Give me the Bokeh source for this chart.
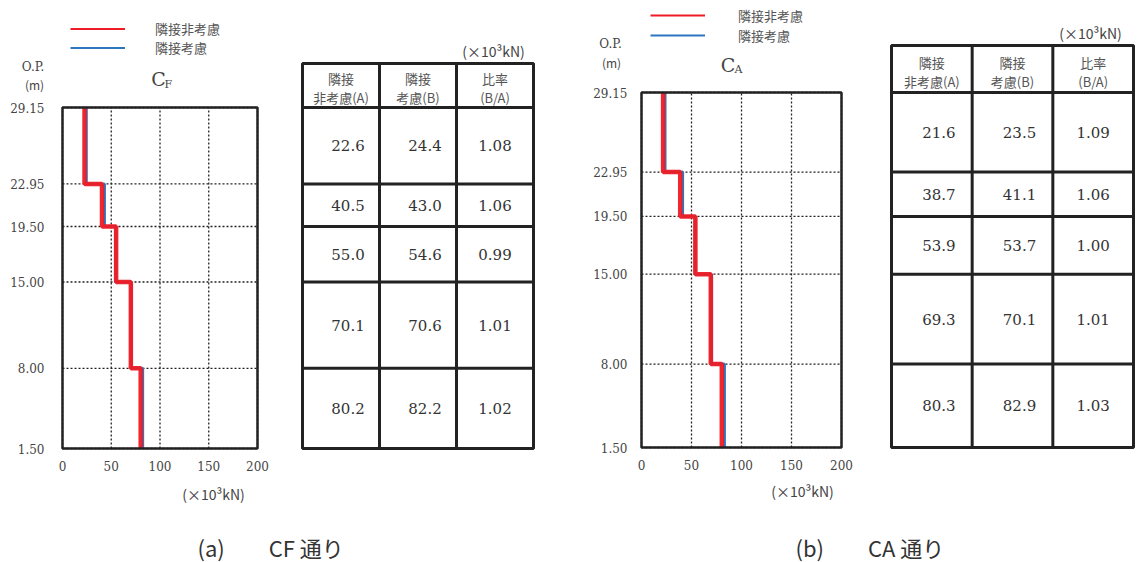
from bokeh.plotting import figure
from bokeh.models import (Range1d, Label, Legend, LegendItem, FixedTicker,
                          NumeralTickFormatter, LinearAxis)
from bokeh.embed import file_html
from bokeh.resources import INLINE
from bokeh.core.properties import value

# ---------------- data ----------------
levels = [29.15, 22.95, 19.50, 15.00, 8.00, 1.50]   # O.P. (m) floor levels
x_ticks = [0, 50, 100, 150, 200]

cf_a = [22.6, 40.5, 55.0, 70.1, 80.2]     # 隣接非考慮 (A)
cf_b = [24.4, 43.0, 54.6, 70.6, 82.2]     # 隣接考慮 (B)
cf_ratio = ["1.08", "1.06", "0.99", "1.01", "1.02"]

ca_a = [21.6, 38.7, 53.9, 69.3, 80.3]
ca_b = [23.5, 41.1, 53.7, 70.1, 82.9]
ca_ratio = ["1.09", "1.06", "1.00", "1.01", "1.03"]

legend_labels = ["隣接非考慮", "隣接考慮"]
header_line1 = ["隣接", "隣接", "比率"]
header_line2 = ["非考慮(A)", "考慮(B)", "(B/A)"]
unit_text = "(×10³kN)"
op_text = ["O.P.", "(m)"]
captions = ["(a)　　CF 通り", "(b)　　CA 通り"]

# ---------------- style ----------------
RED = "#ee1c24"
BLUE = "#2e75c0"
TXT = "#444444"
DARK = "#222222"
JP = "Noto Sans CJK JP"
SERIF = "DejaVu Serif"

# page canvas (frame covers the whole page area, pixel coordinates)
PX0, PX1 = 0, 1140
PY0, PY1 = 0, 562

p = figure(width=PX1 - PX0, height=PY1 - PY0, min_border=0,
           x_range=Range1d(PX0, PX1), y_range=Range1d(PY1, PY0),
           x_axis_location=None, y_axis_location=None,
           toolbar_location=None, output_backend="svg")
p.grid.visible = False
p.outline_line_color = None
p.background_fill_color = "white"
p.border_fill_color = "white"


def ext_range(v0, v1, q0, q1, f0, f1):
    """range whose value v0 sits at pixel q0 and v1 at pixel q1, over frame pixels f0..f1"""
    k = (v1 - v0) / (q1 - q0)
    return Range1d(v0 + (f0 - q0) * k, v0 + (f1 - q0) * k)


def steps(vals):
    xs, ys = [], []
    for i, v in enumerate(vals):
        xs += [v, v]
        ys += [levels[i], levels[i + 1]]
    return xs, ys


def panel(key, a, b, r, sub, g):
    xr, yr, tr = key + "_x", key + "_y", key + "_t"
    p.extra_x_ranges[xr] = ext_range(x_ticks[0], x_ticks[-1], g["bx"][0], g["bx"][1], PX0, PX1)
    p.extra_y_ranges[yr] = ext_range(min(levels), max(levels), g["by"][0], g["by"][1], PY1, PY0)
    p.extra_x_ranges[tr] = ext_range(0, 3, g["tx"][0], g["tx"][1], PX0, PX1)
    rk = dict(x_range_name=xr, y_range_name=yr)

    # grid lines (dotted) at the tick values
    lo, hi = min(levels), max(levels)
    p.segment(x0=x_ticks, y0=[lo] * len(x_ticks), x1=x_ticks, y1=[hi] * len(x_ticks),
              line_color=DARK, line_dash="2 2", line_width=1.3, **rk)
    p.segment(x0=[x_ticks[0]] * len(levels), y0=levels, x1=[x_ticks[-1]] * len(levels),
              y1=levels, line_color=DARK, line_dash="2 2", line_width=1.3, **rk)

    # step profiles
    bx, by = steps(b)
    ax_, ay = steps(a)
    p.line(bx, by, line_color=BLUE, line_width=3, **rk)
    p.line(ax_, ay, line_color=RED, line_width=4.5, line_alpha=0.95, **rk)

    # plot frame box
    p.quad(left=[x_ticks[0]], right=[x_ticks[-1]], bottom=[lo], top=[hi],
           fill_color=None, line_color=DARK, line_width=2.5, **rk)

    # axes
    xa = LinearAxis(x_range_name=xr, y_range_name=yr, fixed_location=lo,
                    ticker=FixedTicker(ticks=x_ticks))
    ya = LinearAxis(x_range_name=xr, y_range_name=yr, fixed_location=x_ticks[0],
                    ticker=FixedTicker(ticks=levels),
                    formatter=NumeralTickFormatter(format="0.00"))
    for ax in (xa, ya):
        ax.axis_line_color = None
        ax.major_tick_line_color = None
        ax.minor_tick_line_color = None
        ax.major_label_text_font = SERIF
        ax.major_label_text_font_size = "12px"
        ax.major_label_text_color = TXT
    xa.major_label_standoff = 6
    ya.major_label_standoff = g["ystand"]
    p.add_layout(xa, "below")
    p.add_layout(ya, "left")

    # legend (thin sample lines, renderers without visible data)
    nan = float("nan")
    la = p.line([nan], [nan], line_color=RED, line_width=1.8)
    lb = p.line([nan], [nan], line_color=BLUE, line_width=1.8)
    leg = Legend(items=[LegendItem(label=legend_labels[0], renderers=[la]),
                        LegendItem(label=legend_labels[1], renderers=[lb])],
                 location=(g["leg"][0] - PX0, PY1 - g["leg"][1]),
                 glyph_width=55, glyph_height=g["lh"], label_height=g["lh"],
                 label_standoff=g["lstand"], spacing=0, padding=0, margin=0,
                 border_line_color=None, background_fill_alpha=0,
                 label_text_font=JP, label_text_font_size="13px",
                 label_text_color="#555555")
    p.add_layout(leg)

    lab = dict(text_align="center", text_baseline="middle", text_color=TXT)
    p.add_layout(Label(x=g["op"][0], y=g["op"][1], text=op_text[0], text_font=SERIF,
                       text_font_size="12px", **lab))
    p.add_layout(Label(x=g["m"][0], y=g["m"][1], text=op_text[1], text_font=JP,
                       text_font_size="12px", **lab))
    p.add_layout(Label(x=g["c"][0], y=g["c"][1], text="C", text_font=SERIF,
                       text_font_size="19px", **lab))
    p.add_layout(Label(x=g["s"][0], y=g["s"][1], text=sub, text_font=SERIF,
                       text_font_size="11px", text_align="left",
                       text_baseline="middle", text_color=TXT))
    p.add_layout(Label(x=g["u"][0], y=g["u"][1], text=unit_text, text_font=JP,
                       text_font_size="14px", **lab))
    p.add_layout(Label(x=g["u2"][0], y=g["u2"][1], text=unit_text, text_font=JP,
                       text_font_size="14px", **lab))

    # ---------------- table ----------------
    tk = dict(x_range_name=tr, y_range_name=yr)
    top = hi + g["hdr"] * (hi - lo) / (g["by"][0] - g["by"][1])
    p.quad(left=[0], right=[3], bottom=[lo], top=[top], fill_color=None,
           line_color=DARK, line_width=3, **tk)
    p.segment(x0=[1, 2], y0=[lo, lo], x1=[1, 2], y1=[top, top],
              line_color=DARK, line_width=3, **tk)
    hl = levels[:-1]
    p.segment(x0=[0] * len(hl), y0=hl, x1=[3] * len(hl), y1=hl,
              line_color=DARK, line_width=3, **tk)

    mids = [(levels[i] + levels[i + 1]) / 2 for i in range(len(levels) - 1)]
    cols = [[f"{v:.1f}" for v in a], [f"{v:.1f}" for v in b], r]
    for ci, col in enumerate(cols):
        p.text(x=[ci + 0.5] * len(col), y=mids, text=col,
               x_offset=7 if ci < 2 else 0,
               text_font=value(SERIF), text_font_size="15px", text_color="#333333",
               text_align="center", text_baseline="middle", **tk)

    hmid = (hi + top) / 2
    xs = [0.5, 1.5, 2.5]
    p.text(x=xs, y=[hmid] * 3, text=header_line1, y_offset=-7,
           text_font=value(JP), text_font_size="13px", text_color="#555555",
           text_align="center", text_baseline="middle", **tk)
    p.text(x=xs, y=[hmid] * 3, text=header_line2, y_offset=12,
           text_font=value(JP), text_font_size="13px", text_color="#555555",
           text_align="center", text_baseline="middle", **tk)


# layout positions in page pixels
g_cf = dict(bx=(62, 257), by=(448, 107), tx=(302, 533), hdr=44, ystand=12,
            leg=(70, 56.5), lh=19, lstand=30,
            op=(32.5, 66), m=(34, 84), c=(158, 78), s=(164, 84),
            u=(213, 493), u2=(493, 50))
g_ca = dict(bx=(641, 841), by=(447, 92), tx=(891, 1133), hdr=47, ystand=8,
            leg=(650, 45), lh=20, lstand=33,
            op=(610, 43), m=(611, 62), c=(727.5, 64), s=(734, 69),
            u=(802, 490), u2=(1090, 32))

panel("cf", cf_a, cf_b, cf_ratio, "F", g_cf)
panel("ca", ca_a, ca_b, ca_ratio, "A", g_ca)

for cx, txt in zip([197, 795], captions):
    p.add_layout(Label(x=cx, y=546, text=txt, text_font=JP, text_font_size="22px",
                       text_align="left", text_baseline="middle", text_color="#333333"))

open("out.html", "w").write(file_html(p, INLINE))
